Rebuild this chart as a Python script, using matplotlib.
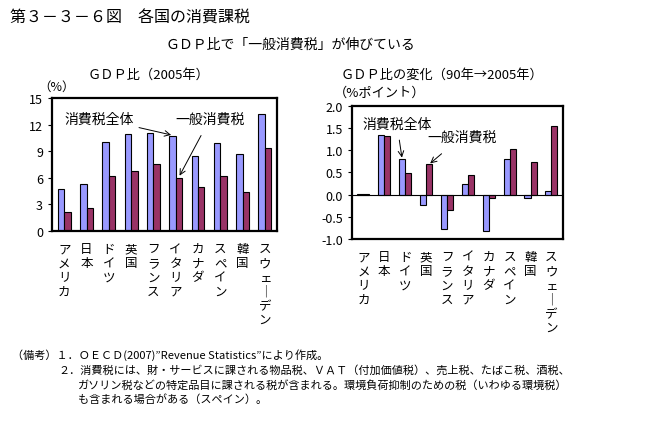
import numpy as np
import matplotlib
matplotlib.use('Agg')
import matplotlib.pyplot as plt

plt.rcParams['font.family'] = ['Noto Sans CJK JP', 'DejaVu Sans']

# データ
countries = ['アメリカ', '日本', 'ドイツ', '英国', 'フランス', 'イタリア', 'カナダ', 'スペイン', '韓国', 'スウェーデン']
gdp_total_2005 = [4.75, 5.3, 10.0, 10.95, 11.1, 10.7, 8.45, 9.95, 8.7, 13.2]
gdp_general_2005 = [2.1, 2.6, 6.2, 6.8, 7.55, 5.95, 4.95, 6.2, 4.4, 9.35]
chg_total = [0.01, 1.33, 0.80, -0.23, -0.78, 0.23, -0.81, 0.80, -0.08, 0.08]
chg_general = [0.01, 1.31, 0.48, 0.68, -0.34, 0.44, -0.08, 1.02, 0.73, 1.54]
left_yticks = [0, 3, 6, 9, 12, 15]
right_yticks = [-1.0, -0.5, 0.0, 0.5, 1.0, 1.5, 2.0]

BLUE = '#9999ff'
RED = '#993366'


def vertical(s):
    # 縦書き用に1文字ずつ改行（長音は縦棒に）
    return '\n'.join('｜' if c == 'ー' else c for c in s)


def draw_bars(ax, v1, v2):
    x = np.arange(len(countries))
    w = 0.29
    ax.bar(x - w / 2, v1, w, color=BLUE, edgecolor='black', linewidth=0.8)
    ax.bar(x + w / 2, v2, w, color=RED, edgecolor='black', linewidth=0.8)
    ax.set_xlim(-0.55, len(countries) - 0.45)
    ax.set_xticks(x)
    ax.set_xticklabels([vertical(c) for c in countries], fontsize=9,
                       va='top', linespacing=1.12)
    ax.tick_params(axis='x', length=0, pad=8)
    ax.tick_params(axis='y', length=3, direction='out', labelsize=9)
    for sp in ax.spines.values():
        sp.set_linewidth(1.6)


fig = plt.figure(figsize=(6.59, 4.31), dpi=100)

fig.text(0.015, 0.958, '第３－３－６図　各国の消費課税', fontsize=11.5, va='center')
fig.text(0.44, 0.895, 'ＧＤＰ比で「一般消費税」が伸びている', fontsize=10, ha='center', va='center')

# 左：GDP比（2005年）
ax1 = fig.add_axes([0.079, 0.4617, 0.3414, 0.3086])
draw_bars(ax1, gdp_total_2005, gdp_general_2005)
ax1.set_ylim(0, 15)
ax1.set_yticks(left_yticks)
fig.text(0.225, 0.826, 'ＧＤＰ比（2005年）', fontsize=9.5, ha='center', va='center')
fig.text(0.058, 0.797, '（%）', fontsize=9, ha='left', va='center')
ax1.annotate('消費税全体', xy=(5 - 0.145, 10.8), xytext=(1.55, 12.7),
             fontsize=10, ha='center', va='center',
             arrowprops=dict(arrowstyle='->', color='black', lw=0.7, shrinkA=2, shrinkB=1))
ax1.annotate('一般消費税', xy=(5 + 0.145, 6.1), xytext=(6.55, 12.7),
             fontsize=10, ha='center', va='center',
             arrowprops=dict(arrowstyle='->', color='black', lw=0.7, shrinkA=6, shrinkB=1))

# 右：GDP比の変化（90年→2005年）
ax2 = fig.add_axes([0.534, 0.4432, 0.3202, 0.3093])
draw_bars(ax2, chg_total, chg_general)
ax2.axhline(0, color='black', lw=0.8)
ax2.set_ylim(-1.0, 2.0)
ax2.set_yticks(right_yticks)
ax2.set_yticklabels(['%.1f' % v for v in right_yticks])
fig.text(0.517, 0.826, 'ＧＤＰ比の変化（90年→2005年）', fontsize=9.5, ha='left', va='center')
fig.text(0.506, 0.783, '（%ポイント）', fontsize=9.5, ha='left', va='center')
ax2.annotate('消費税全体', xy=(2 - 0.145, 0.8), xytext=(1.6, 1.6),
             fontsize=10, ha='center', va='center',
             arrowprops=dict(arrowstyle='->', color='black', lw=0.7, shrinkA=5, shrinkB=1))
ax2.annotate('一般消費税', xy=(3 + 0.145, 0.68), xytext=(4.7, 1.3),
             fontsize=10, ha='center', va='center',
             arrowprops=dict(arrowstyle='->', color='black', lw=0.7, shrinkA=8, shrinkB=1))

# 備考
notes = [
    (0.018, 0.176, '（備考）１．ＯＥＣＤ(2007)”Revenue Statistics”により作成。'),
    (0.088, 0.141, '２．消費税には、財・サービスに課される物品税、ＶＡＴ（付加価値税）、売上税、たばこ税、酒税、'),
    (0.118, 0.107, 'ガソリン税などの特定品目に課される税が含まれる。環境負荷抑制のための税（いわゆる環境税）'),
    (0.118, 0.073, 'も含まれる場合がある（スペイン）。'),
]
for x, y, t in notes:
    fig.text(x, y, t, fontsize=8, ha='left', va='center')

fig.savefig('out.png', dpi=100)
